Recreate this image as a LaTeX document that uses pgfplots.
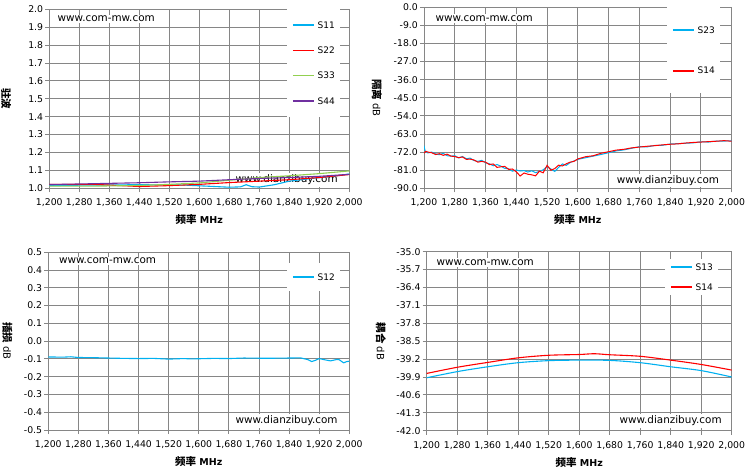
\documentclass[border=0pt]{standalone}
\usepackage{pgfplots}
\pgfplotsset{compat=1.18}
\usepackage{fontspec}
\setmainfont{DejaVu Sans}
\newfontfamily\cjk{Noto Sans CJK SC}
\definecolor{gridgray}{RGB}{134,134,134}
\definecolor{cblue}{RGB}{0,176,240}
\definecolor{cred}{RGB}{255,0,0}
\definecolor{cgreen}{RGB}{146,208,80}
\definecolor{cpurple}{RGB}{112,48,160}
\tikzset{wm/.style={fill=white, inner sep=1.5pt, font=\fontsize{10.4}{11}\selectfont}}
\pgfplotsset{
  panel/.style={
    scale only axis, anchor=south west,
    xmin=1200, xmax=2000, xtick={1200,1280,...,2000},
    grid=major,
    grid style={draw=gridgray, line width=0.9pt},
    axis line style={draw=gridgray, line width=0.9pt},
    tick style={draw=gridgray, line width=0.9pt},
    tick align=outside, major tick length=4pt,
    xtick pos=bottom, ytick pos=left,
    /pgf/number format/assume math mode=true,
    ticklabel style={font=\fontsize{9.3}{10}\selectfont, inner sep=0pt},
    xticklabel style={anchor=north, yshift=-6.5pt, /pgf/number format/1000 sep={,}},
    yticklabel style={anchor=east, xshift=-2pt, /pgf/number format/.cd, fixed, fixed zerofill, precision=1},
    every axis x label/.style={at={(rel axis cs:0.5,0)}, yshift=-31.7pt, anchor=center, font=\bfseries\fontsize{9.5}{10}\selectfont},
    xlabel={{\cjk\bfseries\fontsize{10.5}{11}\selectfont 频率} MHz},
    legend image code/.code={\draw[##1, line width=1.6pt] (0pt,0pt) -- (21pt,0pt);},
    legend cell align=left,
    every axis plot/.append style={line width=1.1pt},
  },
}
\begin{document}
\begin{tikzpicture}
\path[use as bounding box] (0pt,0pt) rectangle (747pt,472pt);

% ---------------- top-left: VSWR
\begin{axis}[panel, at={(49.3pt,283.7pt)}, width=300pt, height=179pt,
  ymin=1, ymax=2, ytick={1.0,1.1,1.2,1.3,1.4,1.5,1.6,1.7,1.8,1.9,2.0},
  every axis y label/.style={at={(rel axis cs:0,0.5)}, xshift=-43.3pt, rotate=-90, anchor=center},
  ylabel={{\cjk\bfseries\fontsize{10.5}{11}\selectfont 驻波}},
  legend style={draw=none, fill=white, at={(0.969,1)}, anchor=north east,
    inner xsep=5pt, inner ysep=12.5pt, row sep=18.7pt, column sep=3pt,
    font=\fontsize{9}{9}\selectfont, nodes={inner sep=0pt, text height=6.5pt, text depth=0pt}},
]
\node[wm, anchor=west] at ([xshift=6.7pt, yshift=-9.7pt]rel axis cs:0,1) {www.com-mw.com};
\node[wm, anchor=east] at ([xshift=-10pt, yshift=8.3pt]rel axis cs:1,0) {www.dianzibuy.com};
\addplot[cblue] coordinates {(1200,1.015)(1300,1.018)(1440,1.020)(1560,1.018)(1620,1.012)(1680,1.006)(1710,1.008)(1725,1.020)(1740,1.009)(1760,1.007)(1800,1.020)(1840,1.040)(1900,1.055)(1960,1.068)(2000,1.080)};
\addplot[cred] coordinates {(1200,1.022)(1320,1.022)(1440,1.010)(1520,1.015)(1600,1.022)(1680,1.032)(1760,1.040)(1840,1.048)(1920,1.060)(2000,1.077)};
\addplot[cgreen] coordinates {(1200,1.012)(1320,1.012)(1440,1.016)(1520,1.022)(1600,1.030)(1680,1.045)(1760,1.060)(1840,1.070)(1920,1.082)(2000,1.097)};
\addplot[cpurple] coordinates {(1200,1.021)(1300,1.025)(1440,1.031)(1520,1.036)(1600,1.040)(1680,1.048)(1760,1.055)(1840,1.060)(1920,1.067)(2000,1.078)};
\legend{S11,S22,S33,S44}
\end{axis}

% ---------------- top-right: isolation
\begin{axis}[panel, at={(424pt,283.7pt)}, width=307.7pt, height=181pt,
  ymin=-90, ymax=0, ytick={-90,-81,-72,-63,-54,-45,-36,-27,-18,-9,0},
  every axis y label/.style={at={(rel axis cs:0,0.5)}, xshift=-47pt, rotate=-90, anchor=center},
  ylabel={{\cjk\bfseries\fontsize{10.5}{11}\selectfont 隔离} dB},
  legend style={draw=none, fill=white, at={(0.962,1)}, anchor=north east,
    inner xsep=5pt, inner ysep=19.5pt, row sep=34pt, column sep=3pt,
    font=\fontsize{9}{9}\selectfont, nodes={inner sep=0pt, text height=6.5pt, text depth=0pt}},
]
\node[wm, anchor=west] at ([xshift=10pt, yshift=-11pt]rel axis cs:0,1) {www.com-mw.com};
\node[wm, anchor=east] at ([xshift=-11pt, yshift=8pt]rel axis cs:1,0) {www.dianzibuy.com};
\addplot[cblue, line width=1pt] coordinates {
(1200,-68.8)(1203,-71.5)(1210,-72.4)(1220,-72.0)(1230,-72.9)(1240,-73.3)(1250,-72.6)(1260,-73.8)(1270,-74.0)(1280,-73.8)
(1290,-74.9)(1300,-74.2)(1310,-75.3)(1320,-75.0)(1330,-76.2)(1340,-76.6)(1350,-76.1)(1360,-77.3)(1370,-77.8)(1380,-78.8)
(1390,-78.2)(1400,-79.0)(1410,-80.1)(1420,-80.3)(1430,-81.5)(1440,-80.9)(1450,-81.4)(1460,-81.2)(1470,-81.9)(1480,-81.3)
(1490,-82.2)(1500,-81.6)(1510,-80.8)(1520,-79.2)(1530,-80.4)(1540,-81.6)(1550,-79.6)(1560,-77.9)(1570,-78.6)(1580,-77.2)
(1590,-76.4)(1600,-75.6)(1620,-74.8)(1640,-74.0)(1660,-73.2)(1680,-72.3)(1700,-71.4)(1720,-70.9)(1740,-70.1)(1760,-69.3)
(1780,-69.4)(1800,-68.7)(1820,-68.6)(1840,-68.0)(1860,-67.8)(1880,-67.6)(1900,-67.4)(1920,-66.9)(1940,-67.0)(1960,-66.5)
(1980,-66.5)(2000,-66.4)};
\addplot[cred, line width=1pt] coordinates {
(1200,-72.5)(1205,-71.6)(1210,-72.0)(1220,-72.3)(1230,-73.2)(1240,-72.8)(1250,-73.6)(1260,-73.0)(1270,-74.0)(1280,-74.2)
(1290,-74.8)(1300,-74.4)(1310,-75.6)(1320,-75.5)(1330,-75.9)(1340,-77.0)(1350,-76.6)(1360,-77.0)(1370,-78.2)(1380,-77.9)
(1390,-79.6)(1400,-79.3)(1410,-79.1)(1420,-80.6)(1430,-80.4)(1440,-81.8)(1450,-83.9)(1460,-82.4)(1470,-83.0)(1480,-83.3)
(1490,-83.8)(1500,-81.5)(1510,-82.3)(1520,-78.6)(1530,-81.0)(1540,-80.2)(1550,-78.5)(1560,-78.9)(1570,-77.8)(1580,-77.0)
(1590,-76.6)(1600,-75.4)(1620,-74.3)(1640,-73.8)(1660,-72.6)(1680,-71.8)(1700,-71.0)(1720,-70.6)(1740,-69.9)(1760,-69.5)
(1780,-69.1)(1800,-68.8)(1820,-68.4)(1840,-68.1)(1860,-67.9)(1880,-67.5)(1900,-67.2)(1920,-67.0)(1940,-66.8)(1960,-66.6)
(1980,-66.3)(2000,-66.6)};
\legend{S23,S14}
\end{axis}

% ---------------- bottom-left: insertion loss
\begin{axis}[panel, at={(48.3pt,42pt)}, width=301pt, height=177.7pt,
  ymin=-0.5, ymax=0.5, ytick={-0.5,-0.4,-0.3,-0.2,-0.1,0,0.1,0.2,0.3,0.4,0.5},
  every axis y label/.style={at={(rel axis cs:0,0.5)}, xshift=-41pt, rotate=-90, anchor=center},
  ylabel={{\cjk\bfseries\fontsize{10.5}{11}\selectfont 插损} dB},
  legend style={draw=none, fill=white, at={(0.969,0.941)}, anchor=north east,
    inner xsep=5pt, inner ysep=11pt, column sep=3pt,
    font=\fontsize{9}{9}\selectfont, nodes={inner sep=0pt, text height=6.5pt, text depth=0pt}},
]
\node[wm, anchor=west] at ([xshift=9pt, yshift=-8.7pt]rel axis cs:0,1) {www.com-mw.com};
\node[wm, anchor=east] at ([xshift=-10pt, yshift=9pt]rel axis cs:1,0) {www.dianzibuy.com};
\addplot[cblue] coordinates {(1200,-0.089)(1240,-0.090)(1260,-0.088)(1280,-0.092)(1320,-0.093)(1360,-0.095)(1400,-0.097)(1440,-0.098)(1480,-0.097)(1520,-0.101)(1560,-0.098)(1580,-0.100)(1600,-0.099)(1640,-0.097)(1680,-0.098)(1720,-0.095)(1760,-0.096)(1800,-0.096)(1840,-0.095)(1870,-0.094)(1890,-0.104)(1900,-0.115)(1910,-0.108)(1920,-0.098)(1935,-0.105)(1950,-0.111)(1965,-0.104)(1972,-0.103)(1985,-0.122)(1993,-0.115)(2000,-0.113)};
\legend{S12}
\end{axis}

% ---------------- bottom-right: coupling
\begin{axis}[panel, at={(426.7pt,41.3pt)}, width=305pt, height=179pt,
  ymin=-42, ymax=-35, ytick={-42,-41.3,-40.6,-39.9,-39.2,-38.5,-37.8,-37.1,-36.4,-35.7,-35},
  every axis y label/.style={at={(rel axis cs:0,0.5)}, xshift=-45.7pt, rotate=-90, anchor=center},
  ylabel={{\cjk\bfseries\fontsize{10.5}{11}\selectfont 耦合} dB},
  legend style={draw=none, fill=white, at={(0.955,0.963)}, anchor=north east,
    inner xsep=5pt, inner ysep=5pt, row sep=13.5pt, column sep=3pt,
    font=\fontsize{9}{9}\selectfont, nodes={inner sep=0pt, text height=6.5pt, text depth=0pt}},
]
\node[wm, anchor=west] at ([xshift=8.3pt, yshift=-10.6pt]rel axis cs:0,1) {www.com-mw.com};
\node[wm, anchor=east] at ([xshift=-8.4pt, yshift=9.7pt]rel axis cs:1,0) {www.dianzibuy.com};
\addplot[cblue, smooth] coordinates {(1200,-39.93)(1280,-39.69)(1360,-39.50)(1440,-39.34)(1520,-39.26)(1600,-39.24)(1680,-39.25)(1760,-39.34)(1840,-39.50)(1920,-39.65)(2000,-39.90)};
\addplot[cred, smooth] coordinates {(1200,-39.76)(1280,-39.52)(1360,-39.33)(1440,-39.15)(1520,-39.05)(1600,-39.02)(1640,-38.99)(1680,-39.03)(1760,-39.09)(1840,-39.24)(1920,-39.41)(2000,-39.63)};
\legend{S13,S14}
\end{axis}
\end{tikzpicture}
\end{document}
